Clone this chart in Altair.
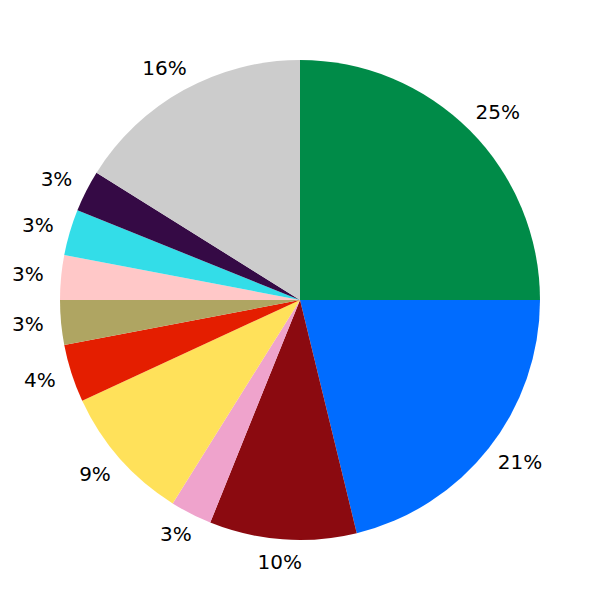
import altair as alt
import pandas as pd

categories = ["A", "B", "C", "D", "E", "F", "G", "H", "I", "J", "K"]
values = [25.0, 21.2, 9.9, 2.8, 9.2, 3.9, 3.0, 3.0, 3.1, 2.8, 16.1]
labels = ["25%", "21%", "10%", "3%", "9%", "4%", "3%", "3%", "3%", "3%", "16%"]
colors = ["#008B48", "#006CFF", "#8B0A10", "#EFA3CC", "#FFE15A", "#E41E00",
          "#AFA562", "#FFC8C8", "#33DDE8", "#350A45", "#CCCCCC"]

df = pd.DataFrame({
    "cat": categories,
    "value": values,
    "label": labels,
    "idx": list(range(len(categories))),
})

base = alt.Chart(df).transform_joinaggregate(
    total="sum(value)"
).transform_window(
    cum="sum(value)", sort=[alt.SortField("idx")]
).transform_calculate(
    mid="2*PI*(datum.cum - datum.value/2)/datum.total",
    hw="6.4*length(datum.label) + 3.5",
)

theta = alt.Theta("value:Q", stack=True)
order = alt.Order("idx:Q")

pie = base.mark_arc(outerRadius=240).encode(
    theta=theta,
    order=order,
    color=alt.Color("cat:N", scale=alt.Scale(domain=categories, range=colors), legend=None),
)

text = base.mark_text(
    radius=257,
    fontSize=20,
    font="DejaVu Sans",
    color="black",
    align="center",
    baseline="middle",
    dx=alt.expr("sin(datum.mid)*datum.hw"),
    dy=alt.expr("-cos(datum.mid)*7"),
).encode(
    theta=theta,
    order=order,
    text="label:N",
)

chart = (pie + text).properties(
    width=584, height=584, padding=0, autosize=alt.AutoSizeParams(type="none")
).configure_view(stroke=None)

chart.save("out.html", embed_options={"renderer": "svg", "actions": False})
